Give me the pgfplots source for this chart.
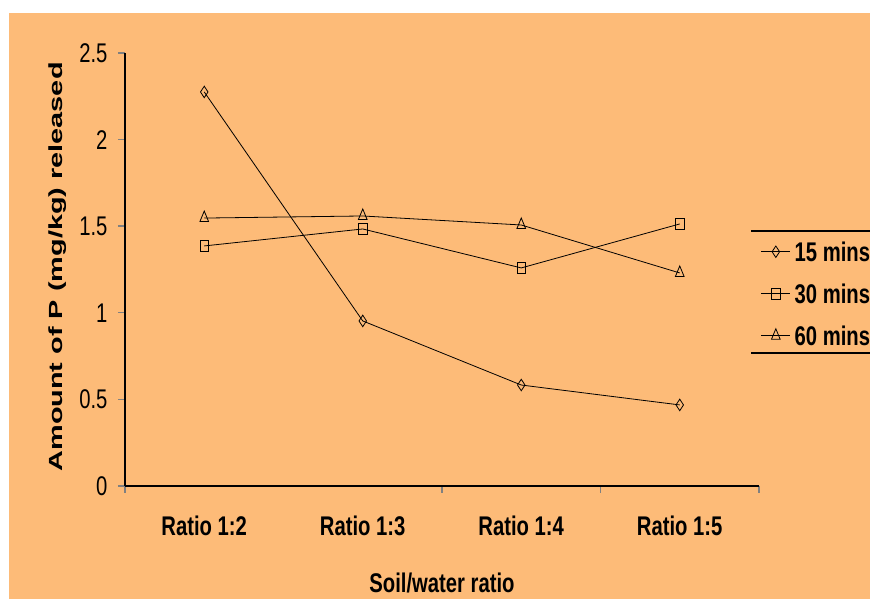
\documentclass[border=0pt]{standalone}
\usepackage{fontspec}
\setmainfont[FakeStretch=0.75]{Liberation Sans}
\newfontfamily\ylabfont[FakeStretch=1.52]{Liberation Sans}
\usepackage{pgfplots}
\pgfplotsset{compat=1.18}
\definecolor{chartbg}{RGB}{253,187,120}

\begin{document}
\begin{tikzpicture}[x=1pt,y=1pt]
\useasboundingbox (0,0) rectangle (870,599);
\fill[white] (0,0) rectangle (870,599);
\fill[chartbg] (9,0) rectangle (870,586);
\begin{axis}[
  at={(125pt,113pt)}, anchor=south west,
  scale only axis, width=634pt, height=433pt,
  xmin=0.5, xmax=4.5, ymin=0, ymax=2.5,
  axis lines=left, axis line style={-, line width=1.4pt},
  xtick={1,2,3,4},
  xticklabels={Ratio 1:2, Ratio 1:3, Ratio 1:4, Ratio 1:5},
  major x tick style={draw=none},
  minor xtick={0.5,2.5,3.5,4.5},
  minor x tick style={line width=1.4pt},
  minor tick length=7pt,
  ytick={0,0.5,1,1.5,2,2.5},
  ytick style={line width=1.4pt},
  tick align=outside, major tick length=7pt,
  /pgf/number format/assume math mode=true,
  tick label style={font=\fontsize{27}{30}\selectfont},
  xticklabel style={font=\bfseries\fontsize{27}{30}\selectfont, yshift=-19pt},
  yticklabel style={xshift=-7pt},
  xlabel={Soil/water ratio},
  xlabel style={at={(0.5,-0.224)}, anchor=center, font=\bfseries\fontsize{27}{30}\selectfont},
  ylabel={Amount of P (mg/kg) released},
  ylabel style={at={(-0.1057,0.506)}, anchor=center, font=\ylabfont\bfseries\fontsize{19}{22}\selectfont},
  legend style={at={(0.998,0.444)}, anchor=west, draw=none, fill=none,
    font=\bfseries\fontsize{27}{30}\selectfont, row sep=22pt,
    nodes={inner xsep=4pt, inner ysep=0pt, text height=20pt, text depth=0pt}},
  legend cell align=left,
  legend image code/.code={\draw[mark repeat=2,mark phase=2,#1] plot coordinates {(0pt,0pt) (14.5pt,0pt) (29pt,0pt)};},
  every axis plot/.append style={black, line width=0.8pt},
]
\addplot[mark=diamond, mark size=5pt, mark options={yscale=1.15, solid}]
  coordinates {(1,2.275) (2,0.953) (3,0.583) (4,0.468)};
\addlegendentry{15 mins}
\addplot[mark=square, mark size=4.3pt, mark options={yscale=1.25, solid}]
  coordinates {(1,1.386) (2,1.484) (3,1.259) (4,1.513)};
\addlegendentry{30 mins}
\addplot[mark=triangle, mark size=5pt, mark options={yscale=1.4, solid}]
  coordinates {(1,1.547) (2,1.559) (3,1.507) (4,1.230)};
\addlegendentry{60 mins}
\end{axis}
\draw[line width=2pt] (751,368) -- (870,368);
\draw[line width=2pt] (751,246) -- (870,246);
\end{tikzpicture}
\end{document}
